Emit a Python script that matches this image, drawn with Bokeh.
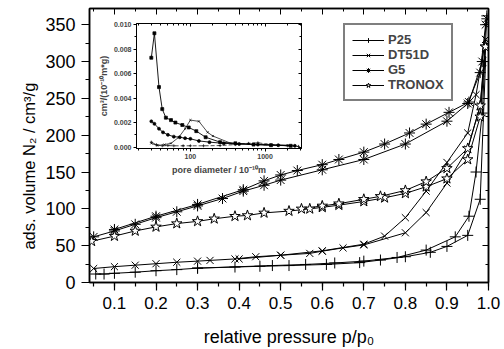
from bokeh.plotting import figure
from bokeh.models import (Legend, LegendItem, LinearAxis, LogAxis, SingleIntervalTicker,
                          NumeralTickFormatter, LogTicker)
from bokeh.embed import file_html
from bokeh.resources import INLINE

FONT = "Liberation Sans"

# ---------------- main isotherm data (p/p0, cm3/g) ----------------
P25_ads_p = [0.055, 0.075, 0.1, 0.15, 0.2, 0.25, 0.3, 0.39, 0.45, 0.52, 0.61, 0.69, 0.74, 0.8, 0.86, 0.9, 0.95, 0.98, 0.993]
P25_ads_v = [11.5, 11.5, 12.5, 14, 16, 17.5, 19.5, 21, 22, 23, 24.5, 27, 30.5, 35, 41, 49, 64, 113, 300]
P25_des_p = [0.996, 0.985, 0.97, 0.953, 0.92, 0.85, 0.78, 0.7, 0.63, 0.56, 0.48, 0.3]
P25_des_v = [362, 230, 150, 90, 62, 44, 34, 29, 26.5, 24.5, 23, 19.5]

DT51D_ads_p = [0.05, 0.1, 0.15, 0.2, 0.25, 0.3, 0.33, 0.39, 0.44, 0.5, 0.57, 0.6, 0.65, 0.7, 0.8, 0.85, 0.9, 0.95, 0.98, 0.993]
DT51D_ads_v = [19, 21.5, 23.5, 25.5, 27.5, 29, 30, 32, 35, 37, 39.5, 42.5, 47, 51, 67.5, 95, 135, 181, 240, 330]
DT51D_des_p = [0.993, 0.97, 0.95, 0.9, 0.85, 0.8, 0.75, 0.7, 0.6, 0.5, 0.4]
DT51D_des_v = [330, 255, 203, 163, 124, 88, 63, 52, 43, 37, 32]

G5_ads_p = [0.05, 0.1, 0.15, 0.2, 0.25, 0.3, 0.36, 0.41, 0.46, 0.5, 0.6, 0.7, 0.8, 0.9, 0.95, 0.98, 0.993]
G5_ads_v = [62, 70, 79, 88, 96, 104, 114, 124, 132, 139, 153, 167, 188, 219, 243, 285, 350]
G5_des_p = [0.996, 0.985, 0.953, 0.905, 0.85, 0.81, 0.75, 0.7, 0.64, 0.6, 0.54, 0.5, 0.46, 0.41, 0.3, 0.2, 0.1]
G5_des_v = [358, 300, 245, 231, 215, 203, 188, 177, 167, 160, 152, 146, 138, 126, 106, 90, 72]

TRONOX_ads_p = [0.045, 0.1, 0.15, 0.2, 0.25, 0.3, 0.34, 0.39, 0.42, 0.46, 0.52, 0.57, 0.6, 0.64, 0.7, 0.75, 0.8, 0.85, 0.9, 0.95, 0.98, 0.993]
TRONOX_ads_v = [56, 63, 70, 75.5, 80, 83, 86.5, 90, 91, 94.5, 97, 100, 102, 105, 110, 115, 121, 130, 141, 167, 225, 320]
TRONOX_des_p = [0.993, 0.98, 0.95, 0.9, 0.85, 0.8, 0.74, 0.7, 0.64, 0.6, 0.55]
TRONOX_des_v = [320, 240, 182, 155, 137, 125, 117, 113, 107, 104, 100]

# ---------------- inset pore size distribution ----------------
G5_psd_d = [30, 33, 38, 42, 47, 55, 63, 78, 95, 120, 160, 250, 400, 700, 1200, 2200]
G5_psd_v = [0.0073, 0.0093, 0.0049, 0.0031, 0.0024, 0.0022, 0.0020, 0.0018, 0.0016, 0.0013, 0.0008, 0.0004, 0.0003, 0.0002, 0.00015, 0.0001]
TRONOX_psd_d = [30, 33, 38, 43, 50, 60, 72, 85, 100, 130, 180, 280, 450, 800, 1500, 2500]
TRONOX_psd_v = [0.0021, 0.0019, 0.0015, 0.0012, 0.0010, 0.00085, 0.0008, 0.00072, 0.00067, 0.0005, 0.0004, 0.0003, 0.00025, 0.0002, 0.00015, 0.0001]
DT51D_psd_d = [30, 36, 45, 55, 70, 85, 100, 130, 170, 200, 350, 600, 1000, 2000]
DT51D_psd_v = [0.0003, 0.00012, 0.0002, 0.0003, 0.0008, 0.0015, 0.0022, 0.0021, 0.0012, 0.0009, 0.0003, 0.00025, 0.0002, 0.00015]
P25_psd_d = [30, 35, 42, 50, 60, 80, 100, 150, 250, 400, 600, 800, 1200, 2000, 2800]
P25_psd_v = [0.0004, 0.0002, 0.0001, 0.00012, 0.0001, 0.0001, 0.0001, 0.0001, 0.00012, 0.0002, 0.0003, 0.00035, 0.0002, 0.0001, 0.00005]

# ---------------- main figure ----------------
p = figure(width=504, height=349, x_range=(0.04, 1.0), y_range=(0, 372),
           output_backend="svg", toolbar_location=None,
           min_border_left=89, min_border_right=16, min_border_top=8, min_border_bottom=66)
p.styles = {"position": "absolute", "left": "0px", "top": "0px"}
p.grid.visible = False
p.outline_line_color = "black"
p.outline_line_width = 1.5
p.background_fill_color = "white"
p.border_fill_color = "white"

xt = SingleIntervalTicker(interval=0.1, num_minor_ticks=2)
yt = SingleIntervalTicker(interval=50, num_minor_ticks=2)

xa = p.xaxis[0]
xa.ticker = xt
xa.formatter = NumeralTickFormatter(format="0.0")
xa.axis_label = "relative pressure p/p\u2080"
ya = p.yaxis[0]
ya.ticker = yt
ya.axis_label = "ads. volume N\u2082 / cm\u00b3/g" + "\u00a0" * 9

for ax in (xa, ya):
    ax.axis_line_width = 1.5
    ax.major_tick_out = 8
    ax.major_tick_in = 0
    ax.minor_tick_out = 4
    ax.minor_tick_in = 0
    ax.major_tick_line_width = 1.2
    ax.minor_tick_line_width = 1.2
    ax.major_label_text_font = FONT
    ax.axis_label_text_font = FONT
    ax.axis_label_text_font_style = "normal"
    ax.major_label_text_color = "black"
    ax.axis_label_text_color = "black"

xa.major_label_text_font_size = "17px"
xa.axis_label_text_font_size = "18px"
xa.major_label_standoff = 6
xa.axis_label_standoff = 15
ya.major_label_text_font_size = "18px"
ya.axis_label_text_font_size = "16.5px"
ya.major_label_standoff = 6
ya.axis_label_standoff = 4


def mirror_axis(cls, ticker, tin, tmin):
    return cls(ticker=ticker, formatter=NumeralTickFormatter(format="0"),
               major_label_text_font_size="1px", major_label_text_color=None,
               major_tick_in=tin, major_tick_out=0, minor_tick_in=tmin, minor_tick_out=0,
               major_label_standoff=0)


top_ax = mirror_axis(LinearAxis, xt, 6, 3)
top_ax.axis_line_width = 1.5
right_ax = mirror_axis(LinearAxis, yt, 6, 3)
right_ax.axis_line_width = 1.5
p.add_layout(top_ax, "above")
p.add_layout(right_ax, "right")

series = [
    ("P25", "cross", P25_ads_p, P25_ads_v, P25_des_p, P25_des_v, 11),
    ("DT51D", "x", DT51D_ads_p, DT51D_ads_v, DT51D_des_p, DT51D_des_v, 10),
    ("G5", "asterisk", G5_ads_p, G5_ads_v, G5_des_p, G5_des_v, 11),
    ("TRONOX", "star", TRONOX_ads_p, TRONOX_ads_v, TRONOX_des_p, TRONOX_des_v, 11),
]
items = []
for name, marker, ap, av, dp, dv, size in series:
    l1 = p.line(ap, av, line_color="black", line_width=1)
    l2 = p.line(dp, dv, line_color="black", line_width=1)
    s1 = p.scatter(ap, av, marker=marker, size=size, line_color="black", fill_color="white", line_width=1)
    s2 = p.scatter(dp, dv, marker=marker, size=size, line_color="black", fill_color="white", line_width=1)
    items.append(LegendItem(label=name, renderers=[l1, s1]))

legend = Legend(items=items, location=(254, 181), border_line_color="black", border_line_width=2.5,
                background_fill_color="white", background_fill_alpha=1,
                label_text_font=FONT, label_text_font_style="bold", label_text_font_size="13px",
                glyph_width=32, glyph_height=12, label_height=12, label_standoff=4, spacing=0,
                padding=7, margin=0)
p.add_layout(legend)

# ---------------- inset ----------------
ins = figure(width=210, height=160, x_axis_type="log", x_range=(19, 3070), y_range=(-0.00012, 0.0101),
             output_backend="svg", toolbar_location=None,
             min_border_left=38, min_border_right=4, min_border_top=5, min_border_bottom=30)
ins.styles = {"position": "absolute", "left": "95px", "top": "18px"}
ins.grid.visible = False
ins.outline_line_color = "black"
ins.outline_line_width = 1
ins.background_fill_color = "white"
ins.border_fill_alpha = 0

ixa = ins.xaxis[0]
ixa.ticker = LogTicker(num_minor_ticks=10)
ixa.formatter = NumeralTickFormatter(format="0")
ixa.axis_label = "pore diameter / 10\u207b\u00b9\u2070m"
iya = ins.yaxis[0]
iya.ticker = SingleIntervalTicker(interval=0.002, num_minor_ticks=2)
iya.formatter = NumeralTickFormatter(format="0.000")
iya.axis_label = "cm\u00b3/(10\u207b\u00b9\u2070m*g)"
for ax in (ixa, iya):
    ax.major_tick_out = 3
    ax.major_tick_in = 0
    ax.minor_tick_out = 2
    ax.minor_tick_in = 0
    ax.major_label_text_font = FONT
    ax.major_label_text_font_style = "bold"
    ax.major_label_text_font_size = "7px"
    ax.axis_label_text_font = FONT
    ax.axis_label_text_font_style = "bold"
    ax.major_label_standoff = 2
    ax.axis_label_standoff = 3
ixa.axis_label_text_font_size = "9px"
iya.axis_label_text_font_size = "9px"
iya.axis_label_standoff = 2

ins_top = mirror_axis(LogAxis, LogTicker(num_minor_ticks=10), 3, 2)
ins_right = mirror_axis(LinearAxis, SingleIntervalTicker(interval=0.002, num_minor_ticks=2), 3, 2)
ins.add_layout(ins_top, "above")
ins.add_layout(ins_right, "right")

psd = [
    (P25_psd_d, P25_psd_v, "cross", 0.7, "4 2"),
    (DT51D_psd_d, DT51D_psd_v, "x", 0.7, "solid"),
    (TRONOX_psd_d, TRONOX_psd_v, "circle", 0.9, "solid"),
    (G5_psd_d, G5_psd_v, "square", 0.9, "solid"),
]
for d, v, mk, lw, dash in psd:
    ins.line(d, v, line_color="black", line_width=lw, line_dash=dash)
    ins.scatter(d, v, marker=mk, size=3, line_color="black", fill_color="black", line_width=0.7)

open("out.html", "w").write(file_html([p, ins], INLINE))
